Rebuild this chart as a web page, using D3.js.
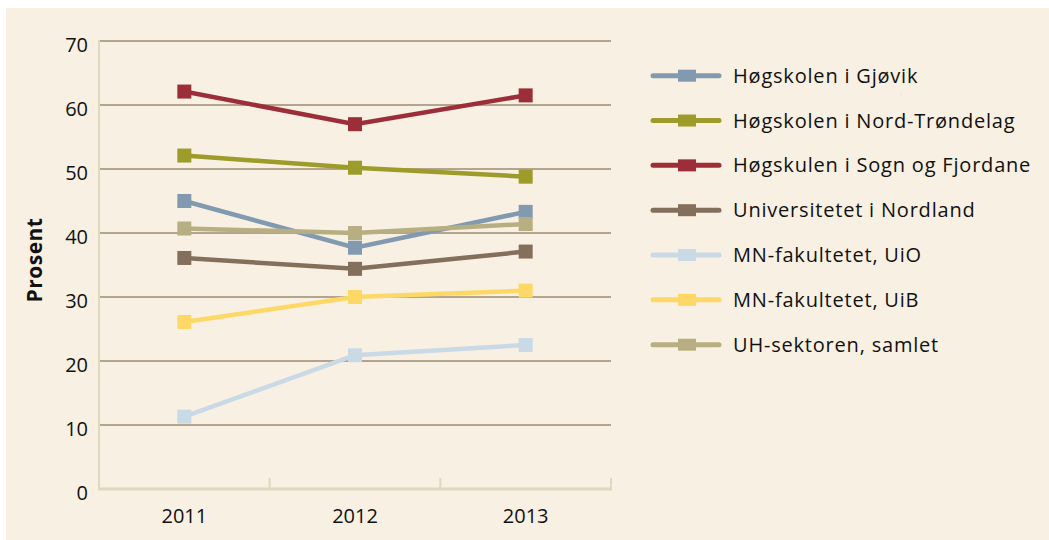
<!DOCTYPE html>
<html>
<head>
<meta charset="utf-8">
<script src="https://cdn.jsdelivr.net/npm/d3@7"></script>
<style>
  html, body { margin: 0; padding: 0; background: #fff; }
  svg { display: block; }
  text { font-family: "Open Sans", "Noto Sans", sans-serif; fill: #111; }
</style>
</head>
<body>
<svg id="chart" width="1049" height="540"></svg>
<script>
// data
const years = ['2011', '2012', '2013']
const yTicks = [0, 10, 20, 30, 40, 50, 60, 70]
const names = ['Høgskolen i Gjøvik', 'Høgskolen i Nord-Trøndelag', 'Høgskulen i Sogn og Fjordane',
  'Universitetet i Nordland', 'MN-fakultetet, UiO', 'MN-fakultetet, UiB', 'UH-sektoren, samlet']
const colors = ['#819ab0', '#9d9b2a', '#9b2e39', '#846f5c', '#cad9e6', '#fed866', '#b7af81']
const gjovik = [45.0, 37.7, 43.3]
const nordTrondelag = [52.1, 50.2, 48.8]
const sognFjordane = [62.1, 57.0, 61.5]
const nordland = [36.1, 34.4, 37.1]
const uio = [11.3, 20.9, 22.5]
const uib = [26.1, 30.0, 31.0]
const uhSamlet = [40.7, 40.0, 41.4]
const series = [gjovik, nordTrondelag, sognFjordane, nordland, uio, uib, uhSamlet]

const svg = d3.select('#chart')
svg.append('rect').attr('x', 6).attr('y', 8).attr('width', 1043).attr('height', 532).attr('fill', '#f8f0e2')

const plotL = 99, plotR = 611, plotT = 41, plotB = 489
const x = d3.scaleBand().domain(years).range([plotL, plotR])
const y = d3.scaleLinear().domain([0, 70]).range([plotB, plotT])

// gridlines
svg.append('g').selectAll('line').data(yTicks.filter(t => t > 0)).enter().append('line')
  .attr('x1', plotL).attr('x2', plotR)
  .attr('y1', d => y(d)).attr('y2', d => y(d))
  .attr('stroke', '#b3a48e').attr('stroke-width', 2)

// y axis line + labels
svg.append('line').attr('x1', plotL).attr('x2', plotL).attr('y1', plotT - 1).attr('y2', plotB + 1)
  .attr('stroke', '#e0d7c0').attr('stroke-width', 2)
svg.append('g').selectAll('text').data(yTicks).enter().append('text')
  .attr('x', 88).attr('y', d => y(d)).attr('dy', 10.5)
  .attr('text-anchor', 'end').style('font-size', '20px').text(d => d)

// x axis line with band ticks
svg.append('line').attr('x1', plotL - 1).attr('x2', plotR + 1).attr('y1', plotB).attr('y2', plotB)
  .attr('stroke', '#e0d7c0').attr('stroke-width', 3)
svg.append('g').selectAll('line').data(years).enter().append('line')
  .attr('x1', d => x(d) + x.bandwidth()).attr('x2', d => x(d) + x.bandwidth())
  .attr('y1', plotB).attr('y2', plotB - 11)
  .attr('stroke', '#e0d7c0').attr('stroke-width', 2)
svg.append('g').selectAll('text').data(years).enter().append('text')
  .attr('x', d => x(d) + x.bandwidth() / 2).attr('y', 523)
  .attr('text-anchor', 'middle').style('font-size', '20px').text(d => d)

svg.append('text').attr('transform', 'translate(35,260) rotate(-90)')
  .attr('text-anchor', 'middle').attr('dy', '0.35em')
  .style('font-size', '21px').style('font-weight', 'bold').style('letter-spacing', '0.5px').text('Prosent')

// lines + markers
const line = d3.line().x((d, i) => x(years[i]) + x.bandwidth() / 2).y(d => y(d))
series.forEach((s, k) => {
  const g = svg.append('g')
  g.append('path').datum(s).attr('d', line).attr('fill', 'none')
    .attr('stroke', colors[k]).attr('stroke-width', 4.5)
  g.selectAll('rect').data(s).enter().append('rect')
    .attr('x', (d, i) => x(years[i]) + x.bandwidth() / 2 - 7)
    .attr('y', d => y(d) - 7).attr('width', 14).attr('height', 14)
    .attr('fill', colors[k])
})

// legend
const leg = svg.append('g').selectAll('g').data(names).enter().append('g')
  .attr('transform', (d, i) => `translate(653,${75.7 + i * 44.83})`)
leg.append('line').attr('x1', 0).attr('x2', 66).attr('stroke', (d, i) => colors[i])
  .attr('stroke-width', 5).attr('stroke-linecap', 'round')
leg.append('rect').attr('x', 25).attr('y', -6).attr('width', 18).attr('height', 12)
  .attr('fill', (d, i) => colors[i])
leg.append('text').attr('x', 80).attr('dy', 7).style('font-size', '20px')
  .style('letter-spacing', '0.8px').text(d => d)
</script>
</body>
</html>
